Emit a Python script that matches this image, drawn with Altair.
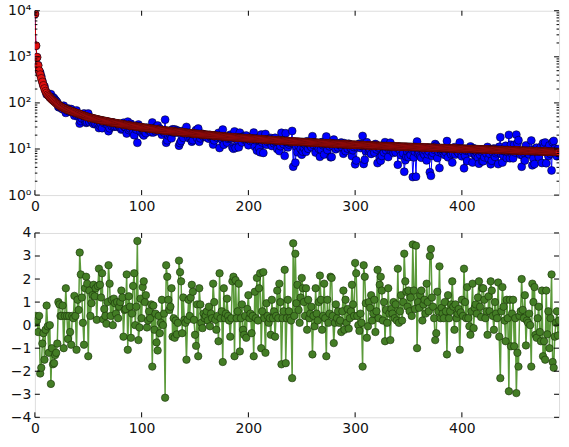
import altair as alt
import numpy as np
import pandas as pd

# residuals (one per x = 0, 1, 2, ...)
resid = [
    0.1, 0.4, 0.2, -0.3, 0.4, -2.1, -1.85, -0.8, -0.35, -1.5,
    -0.2, 0.85, -0.05, -1.2, 0.0, -2.55, -1.0, -1.7, -1.65, -1.3,
    -1.2, -0.8, 1.0, 0.9, 0.4, 0.4, 0.85, -1.0, 0.4, 1.6,
    0.4, -0.6, 0.4, -0.3, -0.85, 0.4, 0.3, 1.27, 0.4, -1.07,
    1.1, 0.66, 3.15, 2.2, 1.2, 0.1, -0.85, 1.6, 2.1, 1.8,
    -1.35, 1.5, 0.4, 0.95, 1.3, 1.75, 1.25, 1.6, 0.23, 1.7,
    2.45, 1.75, 1.2, 2.25, 0.25, 0.7, 0.4, 0.06, 1.0, 2.6,
    1.8, 0.4, 1.1, 0.0, 1.15, 0.95, 0.5, 1.0, 0.3, 0.8,
    1.0, 1.5, 1.2, -0.5, 0.66, 0.7, 2.2, -1.07, 1.25, 0.8,
    -0.55, 0.5, 1.7, 2.25, 0.0, 0.8, 3.65, -0.65, -0.1, 1.15,
    0.3, 1.65, 1.9, 1.0, 1.3, -0.1, 0.2, 0.6, 0.3, 0.9,
    -1.8, 0.85, -0.2, 0.5, -0.75, -1.1, 0.4, -0.35, 0.1, 1.1,
    0.0, 0.5, -3.15, 2.6, 2.1, 1.1, 0.66, 0.8, 1.6, -0.5,
    0.3, -0.55, 0.2, -0.4, 0.1, 2.8, 2.3, 1.9, -0.35, 1.2,
    0.23, 0.1, -1.5, 0.23, 1.1, 0.4, 1.2, 1.75, 1.45, 0.23,
    -0.42, -0.9, 0.9, -1.35, 1.6, 0.9, 0.1, -0.13, 0.5, 0.3,
    0.4, 0.6, 0.2, 0.8, -0.05, 0.5, 0.3, 1.8, 1.0, 0.23,
    -0.2, 0.4, -0.7, 2.25, 0.3, 0.6, -1.6, 1.6, 0.3, 0.5,
    1.15, 0.4, 0.2, -0.5, 0.3, 1.9, 2.1, -1.35, 1.95, 0.3,
    0.6, 1.8, -1.14, 0.3, 0.9, -0.2, -0.42, 0.4, -0.55, 0.7,
    1.3, 0.3, 0.5, -0.35, 0.4, -1.35, 1.45, 0.3, 2.05, 0.2,
    1.6, 2.25, -1.0, 0.6, 2.3, 0.3, -1.2, 0.95, 0.4, 0.1,
    0.3, -0.42, 1.1, 0.3, 0.6, -0.5, 0.4, 1.5, 0.3, 1.8,
    1.0, -1.7, 0.3, 0.6, 2.4, -1.65, 0.3, 1.1, 0.6, 0.3,
    0.2, -2.3, 3.55, 0.4, 3.1, 0.95, 1.75, 0.66, 0.1, 1.2,
    2.05, 1.6, 1.0, 0.4, 1.6, -0.2, 1.1, 0.3, 0.5, 0.8,
    -1.27, 0.4, -0.05, 1.6, 0.5, 0.2, 1.0, 2.15, 1.1, -0.2,
    0.4, 1.8, 0.3, -1.35, 1.1, 0.1, 0.5, 2.1, 2.05, 0.4,
    -0.78, 0.1, 0.9, 0.3, 0.6, 0.1, 0.2, -0.3, 0.6, 1.5,
    -0.2, 1.1, 0.1, 0.7, -0.15, 0.3, 0.6, 1.75, 0.9, 0.4,
    2.7, 2.25, 0.4, 0.0, -0.25, 0.5, 0.1, -1.8, 2.6, 2.1,
    0.95, -0.55, -0.05, 1.0, 0.75, 1.3, 0.2, 0.5, 1.1, -0.3,
    0.6, 2.4, 0.3, 1.75, 2.1, 1.5, 0.2, 1.0, -0.7, 0.66,
    0.1, 1.6, 0.5, -0.65, 0.7, 0.5, 1.0, 0.3, 0.9, 0.2,
    2.45, 0.1, 0.6, 1.3, 0.2, 1.0, 3.1, 1.9, 1.45, 0.8,
    1.5, 0.6, 1.2, 0.4, 3.5, 1.5, 0.7, 3.45, -1.0, 1.0,
    0.75, 1.3, 1.5, 0.2, 0.9, 1.1, 0.5, 1.8, 1.0, 0.6,
    3.0, 3.3, 1.2, 0.8, 0.3, -0.65, -0.35, 1.45, 0.6, 2.55,
    0.3, 0.75, 0.5, 0.3, 1.0, 0.6, -1.27, 1.3, 0.3, 0.6,
    0.9, 1.9, 0.8, -0.2, 0.9, 0.3, 0.5, 0.7, -1.07, 0.55,
    1.1, 0.4, 2.45, 1.0, 0.3, 1.65, 0.3, -0.05, -0.42, 0.6,
    1.8, -0.13, 0.75, 0.9, 0.5, 1.2, 1.9, 0.8, 0.35, 1.6,
    1.6, 1.1, 0.3, 0.6, -0.42, 1.25, 0.6, 1.9, 1.5, 0.4,
    -0.2, 1.0, 0.5, 0.3, 1.85, -0.5, -2.3, 0.6, 1.65, 0.8,
    0.2, -0.7, 1.1, 0.3, -2.87, 1.1, -0.92, 0.5, 1.1, -0.92,
    0.3, -2.95, -1.2, -1.8, 0.4, 0.6, 2.0, 0.66, 0.3, 1.3,
    -0.88, 0.2, 0.1, 0.5, 0.0, -1.8, 1.8, 1.0, 1.65, -0.42,
    -0.55, 0.3, 0.8, -0.3, -0.7, 1.5, -1.35, -0.7, -1.5, 1.5,
    -0.4, 0.6, -1.0, 0.3, 2.2, -1.6, -1.85, -0.5, 0.1, 0.6,
    -0.45, 0.2,
]

# fitted curve (red) at a few x positions
fit_x = [0, 1, 2, 3, 4, 5, 6, 7, 8, 9, 10, 12, 15, 20, 25, 30, 40, 50, 60, 70,
         80, 90, 100, 120, 150, 180, 210, 240, 270, 300, 330, 360, 390, 420, 450, 491]
fit_y = [8500, 1750, 980, 650, 500, 410, 340, 285, 240, 205, 180, 150, 125, 98, 82, 72, 59, 49, 43, 38.5,
         35, 32, 29.5, 25.4, 21.5, 18.4, 16.4, 14.6, 13.4, 12.3, 11.5, 10.9, 10.3, 9.8, 9.3, 8.6]

x_ticks = [0, 100, 200, 300, 400]
top_ticks = [1, 10, 100, 1000, 10000]
top_minor = [m * 10 ** k for k in range(4) for m in range(2, 10)]
bot_ticks = [-4, -3, -2, -1, 0, 1, 2, 3, 4]

N = len(resid)
xv = np.arange(N)
fit = 10 ** np.interp(xv, fit_x, np.log10(fit_y))
r = np.array(resid)
data = (np.sqrt(fit) - r / 2.0) ** 2  # residual shown below = 2(sqrt(fit) - sqrt(data))

df = pd.DataFrame({"x": xv, "data": data, "fit": fit, "resid": r})

FONT = "DejaVu Sans"
FS = 14
W, H = 526, 185
xscale = alt.Scale(domain=[0, N - 1], nice=False, zero=False)
xaxis = alt.Axis(values=x_ticks, ticks=False, domain=False, grid=False,
                 labelFlush=False, labelPadding=4, title=None,
                 labelFont=FONT, labelFontSize=FS, labelColor="#111111")
yscale_top = alt.Scale(type="log", domain=[1, 10000], nice=False)
yaxis_top = alt.Axis(values=top_ticks, ticks=False, domain=False, grid=False,
                     labelPadding=4, title=None, minExtent=29, maxExtent=29,
                     labelFont=FONT, labelFontSize=FS, labelColor="#111111",
                     labelExpr="datum.value == 1 ? '10⁰' : datum.value == 10 ? '10¹' : datum.value == 100 ? '10²' : datum.value == 1000 ? '10³' : '10⁴'")
yscale_bot = alt.Scale(domain=[-4, 4], nice=False, zero=False)
yaxis_bot = alt.Axis(values=bot_ticks, ticks=False, domain=False, grid=False,
                     labelPadding=4, title=None, minExtent=29, maxExtent=29,
                     labelFont=FONT, labelFontSize=FS, labelColor="#111111",
                     labelExpr="datum.value < 0 ? '−' + (-datum.value) : datum.label")


def tick_layers(vals, field, yscale, yaxis, length, sides_x=True):
    d = pd.DataFrame({field: vals})
    base = alt.Chart(d)
    if sides_x:
        enc = alt.X(f"{field}:Q", scale=xscale, axis=xaxis)
        return [
            base.mark_rule(color="black", strokeWidth=1).encode(x=enc, y=alt.value(H), y2=alt.value(H - length)),
            base.mark_rule(color="black", strokeWidth=1).encode(x=enc, y=alt.value(0), y2=alt.value(length)),
        ]
    enc = alt.Y(f"{field}:Q", scale=yscale, axis=yaxis)
    return [
        base.mark_rule(color="black", strokeWidth=1).encode(y=enc, x=alt.value(0), x2=alt.value(length)),
        base.mark_rule(color="black", strokeWidth=1).encode(y=enc, x=alt.value(W - length), x2=alt.value(W)),
    ]


base = alt.Chart(df)
X = alt.X("x:Q", scale=xscale, axis=xaxis)
YT = alt.Y("data:Q", scale=yscale_top, axis=yaxis_top)
YF = alt.Y("fit:Q", scale=yscale_top, axis=yaxis_top)
YB = alt.Y("resid:Q", scale=yscale_bot, axis=yaxis_bot)

blue_line = base.mark_line(color="#0000ff", strokeWidth=1, clip=True).encode(x=X, y=YT)
blue_pts = base.mark_circle(size=64, fill="#0000ff", stroke="black", strokeWidth=0.5,
                            opacity=1, clip=True).encode(x=X, y=YT)
red_line = base.mark_line(color="#cc0000", strokeWidth=1, clip=True).encode(x=X, y=YF)
red_pts = base.mark_circle(size=64, fill="#e01010", stroke="black", strokeWidth=0.5,
                           opacity=1, clip=True).encode(x=X, y=YF)

top = alt.layer(
    blue_line, blue_pts, red_line, red_pts,
    *tick_layers(x_ticks, "x", None, None, 5),
    *tick_layers(top_ticks, "data", yscale_top, yaxis_top, 5, sides_x=False),
    *tick_layers(top_minor, "data", yscale_top, yaxis_top, 2.5, sides_x=False),
).properties(width=W, height=H)

green_line = base.mark_line(color="#5b9a3a", strokeWidth=1.5, clip=True).encode(x=X, y=YB)
green_pts = base.mark_circle(size=56, fill="#437d25", stroke="#1a3308", strokeWidth=0.6,
                             opacity=1, clip=True).encode(x=X, y=YB)

bottom = alt.layer(
    green_line, green_pts,
    *tick_layers(x_ticks, "x", None, None, 5),
    *tick_layers(bot_ticks, "resid", yscale_bot, yaxis_bot, 5, sides_x=False),
).properties(width=W, height=H)

chart = alt.vconcat(top, bottom, spacing=38, bounds="flush").properties(
    padding={"left": 5, "top": 2, "right": 9, "bottom": 5}
).configure_view(
    stroke="#222222", strokeWidth=1.5
).configure(background="white")

chart.save("out.html", embed_options={"renderer": "svg", "actions": False})
